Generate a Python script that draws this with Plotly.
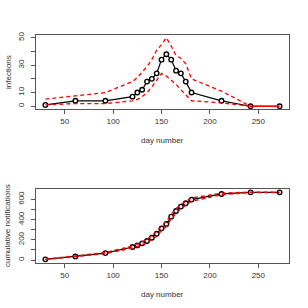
import plotly.graph_objects as go
from plotly.subplots import make_subplots

days = [30, 61, 92, 120, 125, 130, 135, 140, 145, 150, 155, 160, 165, 170, 175, 181, 212, 242, 272]
infections = [1, 4, 4, 7, 10, 12, 18, 20, 24, 34, 38, 34, 26, 24, 18, 10, 4, 0, 0]
inf_upper = [5.2, 7.7, 10, 18, 21, 25, 29, 34, 41, 45, 50, 44, 37, 35, 31, 20, 11, 0, 0]
inf_lower = [1, 2, 2, 4, 5, 7, 10, 14, 19, 24, 22, 19, 16, 12, 8, 4, 2.5, 0, 0]

cum_notif = [7, 36, 69, 129, 145, 165, 188, 221, 260, 313, 356, 429, 485, 528, 561, 597, 653, 669, 669]
cum_upper = [9, 40, 75, 139, 157, 180, 206, 241, 282, 337, 381, 454, 509, 550, 581, 613, 661, 672, 672]
cum_lower = [5, 32, 63, 119, 133, 150, 170, 201, 238, 289, 331, 404, 461, 506, 541, 581, 645, 666, 666]

x_ticks = [50, 100, 150, 200, 250]
inf_ticks = [0, 10, 20, 30, 40, 50]
inf_ticktext = ["0", "10", "", "30", "", "50"]
cum_ticks = [0, 100, 200, 300, 400, 500, 600]
cum_ticktext = ["0", "", "200", "", "400", "", "600"]

RED = "#ff0000"
FONT = dict(family="Liberation Sans, Arial, sans-serif", size=8, color="#333333")

fig = make_subplots(rows=2, cols=1)

def add_panel(row, y, up, lo):
    fig.add_trace(go.Scatter(x=days, y=y, mode="lines",
                             line=dict(color="black", width=1.2),
                             showlegend=False, hoverinfo="skip"), row=row, col=1)
    fig.add_trace(go.Scatter(x=days, y=y, mode="markers",
                             marker=dict(symbol="circle", size=4.5, color="white",
                                         line=dict(color="black", width=1.4)),
                             showlegend=False, hoverinfo="skip"), row=row, col=1)
    for b in (up, lo):
        fig.add_trace(go.Scatter(x=days, y=b, mode="lines",
                                 line=dict(color=RED, width=1.3, dash="4px,3px"),
                                 showlegend=False, hoverinfo="skip"), row=row, col=1)

add_panel(1, infections, inf_upper, inf_lower)
add_panel(2, cum_notif, cum_upper, cum_lower)

axis_common = dict(showgrid=False, zeroline=False, showline=True, mirror=True,
                   linecolor="#555555", linewidth=1, ticks="outside", ticklen=4,
                   tickcolor="#555555", tickwidth=1, tickfont=FONT, automargin=False)

fig.update_xaxes(range=[20.3, 281.7], tickvals=x_ticks, **axis_common)
fig.update_yaxes(tickangle=-90, ticklabelstandoff=4, **axis_common)
fig.update_yaxes(range=[-2, 52], tickvals=inf_ticks, ticktext=inf_ticktext, row=1, col=1)
fig.update_yaxes(range=[-29, 702], tickvals=cum_ticks, ticktext=cum_ticktext, row=2, col=1)

fig.update_layout(
    width=308, height=308,
    margin=dict(l=36, r=19, t=35, b=45, autoexpand=False),
    paper_bgcolor="white", plot_bgcolor="white",
    font=FONT,
    xaxis=dict(domain=[0, 1]), xaxis2=dict(domain=[0, 1]),
    yaxis=dict(domain=[0.6754, 1]), yaxis2=dict(domain=[0, 0.3246]),
)

ann = []
for ybot in (0.6754, 0.0):
    ann.append(dict(text="day number", x=0.5, y=ybot, xref="paper", yref="paper",
                    xanchor="center", yanchor="middle", yshift=-31, showarrow=False, font=FONT))
ann.append(dict(text="infections", x=0, y=(0.6754 + 1) / 2, xref="paper", yref="paper",
                xanchor="center", yanchor="middle", xshift=-28, textangle=-90,
                showarrow=False, font=FONT))
ann.append(dict(text="cumulative notifications", x=0, y=0.3246 / 2, xref="paper", yref="paper",
                xanchor="center", yanchor="middle", xshift=-28, textangle=-90,
                showarrow=False, font=FONT))
fig.update_layout(annotations=ann)

fig.write_html("out.html", config={"displayModeBar": False},
               post_script="document.body.style.margin='0px';document.body.style.overflow='hidden';")
